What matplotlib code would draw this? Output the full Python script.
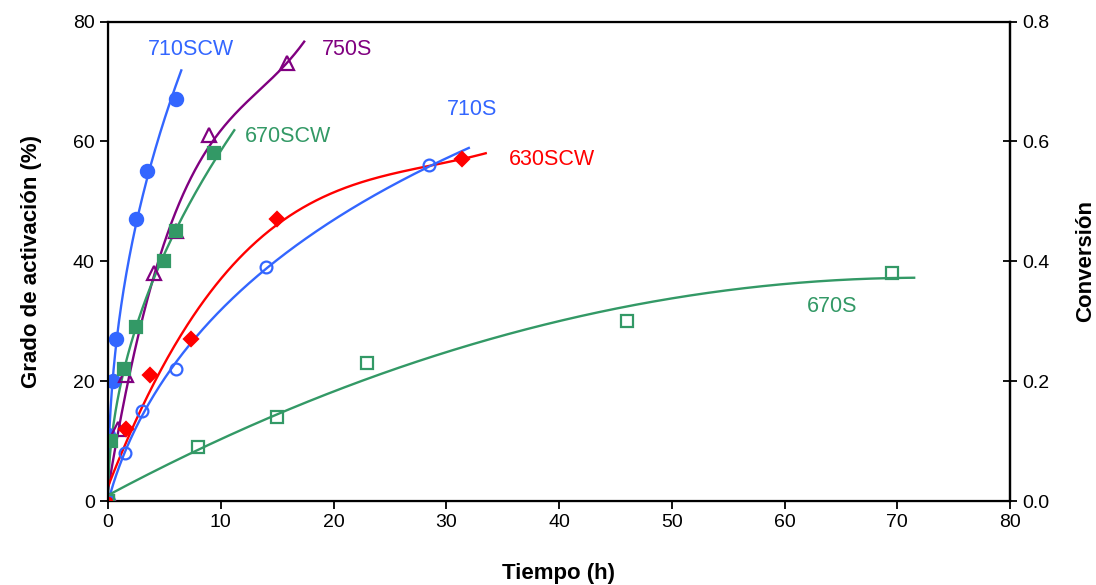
import numpy as np
import matplotlib
matplotlib.use("Agg")
import matplotlib.pyplot as plt

plt.rcParams['font.family'] = ['Liberation Sans', 'DejaVu Sans']

# ---- data (time in h, activation degree in %) ----
t_710SCW = [0, 0, 0.45, 0.7, 2.5, 3.5, 6.0]
y_710SCW = [0, 11, 20, 27, 47, 55, 67]

t_750S = [0, 0.9, 1.6, 4.1, 6.0, 9.0, 15.9]
y_750S = [0, 12, 21, 38, 45, 61, 73]

t_670SCW = [0, 0.3, 1.4, 2.5, 5.0, 6.0, 9.4]
y_670SCW = [0, 10, 22, 29, 40, 45, 58]

t_630SCW = [0, 1.6, 3.7, 7.4, 15.0, 31.4]
y_630SCW = [0, 12, 21, 27, 47, 57]

t_710S = [0, 1.5, 3.0, 6.0, 14.0, 28.5]
y_710S = [0, 8, 15, 22, 39, 56]

t_670S = [0, 8.0, 15.0, 23.0, 46.0, 69.5]
y_670S = [0, 9, 14, 23, 30, 38]

series_names = ['710SCW', '750S', '670SCW', '630SCW', '710S', '670S']
trend_end = [6.5, 17.4, 11.2, 33.5, 32.0, 71.5]   # extent of trendline (h)
trend_type = ['power', 'poly3', 'power', 'poly3', 'logquad', 'poly2']

xticks = [0, 10, 20, 30, 40, 50, 60, 70, 80]
yticks = [0, 20, 40, 60, 80]
y2ticks = [0.0, 0.2, 0.4, 0.6, 0.8]

BLUE = '#3366FF'
PURPLE = '#800080'
GREEN = '#339966'
RED = '#FF0000'

styles = {
    '710SCW': dict(color=BLUE, marker='o', fill=True, ms=9.5),
    '750S': dict(color=PURPLE, marker='^', fill=False, ms=9.5),
    '670SCW': dict(color=GREEN, marker='s', fill=True, ms=8.5),
    '630SCW': dict(color=RED, marker='D', fill=True, ms=7.5),
    '710S': dict(color=BLUE, marker='o', fill=False, ms=8.5),
    '670S': dict(color=GREEN, marker='s', fill=False, ms=8.5),
}
data = {
    '710SCW': (t_710SCW, y_710SCW),
    '750S': (t_750S, y_750S),
    '670SCW': (t_670SCW, y_670SCW),
    '630SCW': (t_630SCW, y_630SCW),
    '710S': (t_710S, y_710S),
    '670S': (t_670S, y_670S),
}
label_pos = {
    '710SCW': (7.4, 75.3),
    '750S': (21.2, 75.3),
    '670SCW': (16.0, 60.8),
    '710S': (32.3, 65.3),
    '630SCW': (39.4, 56.9),
    '670S': (64.2, 32.4),
}


def trend(t, y, kind, tt):
    t = np.asarray(t, float)
    y = np.asarray(y, float)
    if kind in ('power', 'logquad'):
        m = (t > 0) & (y > 0)
        deg = 1 if kind == 'power' else 2
        coef = np.polyfit(np.log(t[m]), np.log(y[m]), deg)
        out = np.zeros_like(tt)
        pos = tt > 0
        out[pos] = np.exp(np.polyval(coef, np.log(tt[pos])))
        return out
    deg = int(kind[4])
    return np.polyval(np.polyfit(t, y, deg), tt)


fig = plt.figure(figsize=(10.96, 5.85), dpi=100)
ax = fig.add_axes([108/1096, 1 - 501/585, (1010-108)/1096, (501-21.5)/585])

for name, tend, kind in zip(series_names, trend_end, trend_type):
    t, y = data[name]
    st = styles[name]
    tt = np.linspace(0, tend, 400)
    ax.plot(tt, trend(t, y, kind, tt), color=st['color'], lw=1.7, zorder=2)
    ax.plot(t, y, linestyle='none', marker=st['marker'], ms=st['ms'],
            mfc=st['color'] if st['fill'] else 'none', mec=st['color'],
            mew=1.6, zorder=3)
    lx, ly = label_pos[name]
    ax.text(lx, ly, name, color=st['color'], fontsize=15.5, ha='center', va='center')

ax.set_xlim(0, 80)
ax.set_ylim(0, 80)
ax.set_xticks(xticks)
ax.set_yticks(yticks)
ax.tick_params(direction='out', length=6, width=1.3, labelsize=14)
for s in ax.spines.values():
    s.set_linewidth(1.6)
ax.set_xlabel('Tiempo (h)', fontsize=16, fontweight='bold', labelpad=23)
ax.set_ylabel('Grado de activación (%)', fontsize=16, fontweight='bold', labelpad=22)

ax2 = ax.twinx()
ax2.set_ylim(0, 0.8)
ax2.set_yticks(y2ticks)
ax2.set_yticklabels([f'{v:.1f}' for v in y2ticks])
ax2.tick_params(direction='inout', length=10, width=1.3, labelsize=14, pad=4)
ax2.spines['right'].set_linewidth(1.6)
ax2.set_ylabel('Conversión', fontsize=16, fontweight='bold', labelpad=18)

fig.savefig('out.png', dpi=100)
